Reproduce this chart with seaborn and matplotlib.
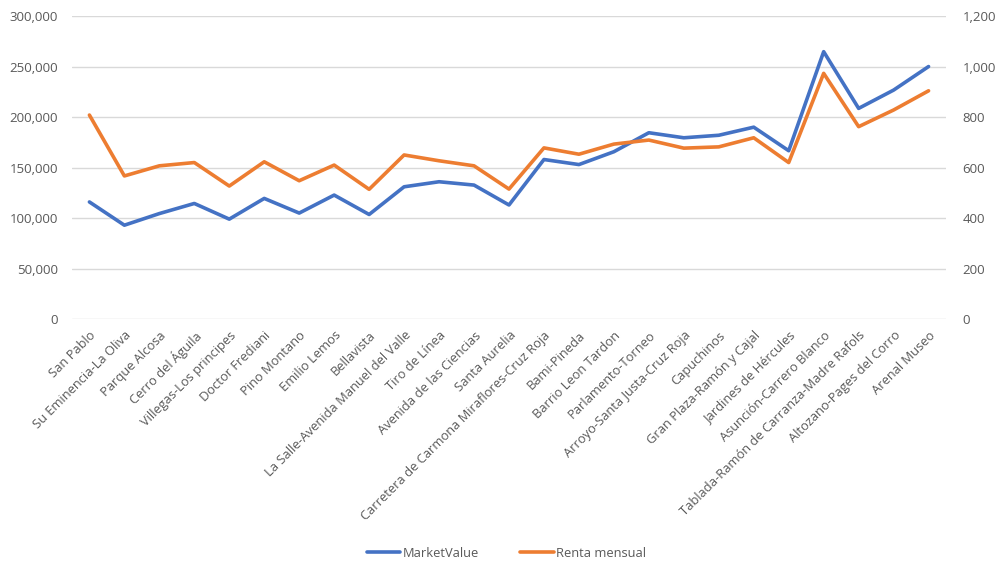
import pandas as pd
import matplotlib
matplotlib.use("Agg")
import matplotlib.pyplot as plt
import seaborn as sns
from matplotlib.ticker import FuncFormatter, MultipleLocator

# neighbourhoods along the x axis
barrios = [
    "San Pablo", "Su Eminencia-La Oliva", "Parque Alcosa", "Cerro del Águila",
    "Villegas-Los principes", "Doctor Frediani", "Pino Montano", "Emilio Lemos",
    "Bellavista", "La Salle-Avenida Manuel del Valle", "Tiro de Línea",
    "Avenida de las Ciencias", "Santa Aurelia",
    "Carretera de Carmona Miraflores-Cruz Roja", "Bami-Pineda",
    "Barrio Leon Tardon", "Parlamento-Torneo", "Arroyo-Santa Justa-Cruz Roja",
    "Capuchinos", "Gran Plaza-Ramón y Cajal", "Jardines de Hércules",
    "Asunción-Carrero Blanco", "Tablada-Ramón de Carranza-Madre Rafols",
    "Altozano-Pages del Corro", "Arenal Museo",
]

# left axis
market_value = [
    116000, 93000, 104500, 114500, 99000, 119500, 105000, 122800, 103600,
    131000, 136000, 132700, 113000, 158000, 153000, 165700, 184500, 179500,
    182000, 190000, 166700, 264700, 208600, 226700, 250000,
]

# right axis
renta_mensual = [
    808, 567, 607, 620, 527, 623, 548, 610, 514, 650, 627, 607, 515, 678,
    653, 693, 709, 677, 682, 718, 620, 973, 762, 828, 904,
]

df = pd.DataFrame({
    "pos": range(len(barrios)),
    "barrio": barrios,
    "MarketValue": market_value,
    "Renta mensual": renta_mensual,
})

sns.set_theme(style="white")
plt.rcParams["font.family"] = ["Open Sans", "DejaVu Sans"]

BLUE = "#4472C4"
ORANGE = "#ED7D31"
TXT = "#595959"
GRID = "#D9D9D9"

fig = plt.figure(figsize=(9.99, 5.72), dpi=100)
ax = fig.add_axes([0.072, 0.442, 0.875, 0.530])
ax2 = ax.twinx()

sns.lineplot(data=df, x="pos", y="MarketValue", ax=ax, color=BLUE,
             linewidth=2.6, label="MarketValue", legend=False,
             solid_capstyle="round", solid_joinstyle="round")
sns.lineplot(data=df, x="pos", y="Renta mensual", ax=ax2, color=ORANGE,
             linewidth=2.6, label="Renta mensual", legend=False,
             solid_capstyle="round", solid_joinstyle="round")

ax.set_xlim(-0.5, len(barrios) - 0.5)
ax.set_ylim(0, 300000)
ax2.set_ylim(0, 1200)
ax.yaxis.set_major_locator(MultipleLocator(50000))
ax2.yaxis.set_major_locator(MultipleLocator(200))
fmt = FuncFormatter(lambda v, p: f"{v:,.0f}")
ax.yaxis.set_major_formatter(fmt)
ax2.yaxis.set_major_formatter(fmt)

ax.grid(axis="y", color=GRID, linewidth=1)
ax.set_axisbelow(True)
ax.set_xticks(df["pos"])
ax.set_xticklabels(barrios, rotation=45, ha="right", rotation_mode="anchor",
                   fontsize=9.3, color=TXT)
ax.tick_params(axis="x", length=0, pad=7)
ax.tick_params(axis="y", length=0, labelsize=9.5, labelcolor=TXT, pad=10)
ax2.tick_params(axis="y", length=0, labelsize=9.5, labelcolor=TXT, pad=12)
ax.set_xlabel("")
ax.set_ylabel("")
ax2.set_ylabel("")
for a in (ax, ax2):
    for s in a.spines.values():
        s.set_visible(False)

handles = ax.get_lines()[:1] + ax2.get_lines()[:1]
fig.legend(handles, ["MarketValue", "Renta mensual"], loc="center",
           bbox_to_anchor=(0.507, 0.033), ncol=2, frameon=False,
           fontsize=9.3, labelcolor=TXT, handlelength=2.6, handletextpad=0.2,
           columnspacing=3.2)

fig.savefig("out.png", dpi=100)
